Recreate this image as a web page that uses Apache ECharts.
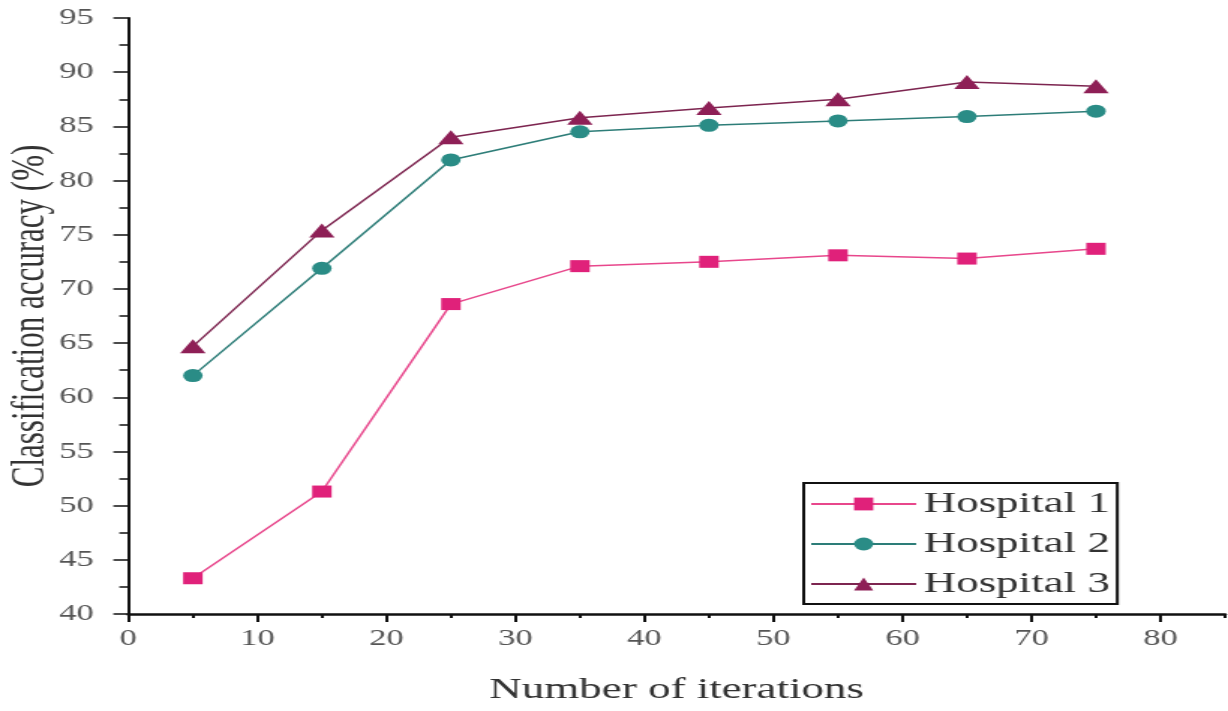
<!DOCTYPE html>
<html>
<head>
<meta charset="utf-8">
<script src="https://cdn.jsdelivr.net/npm/echarts@6/dist/echarts.min.js"></script>
<style>
  html, body { margin: 0; padding: 0; background: #fff; overflow: hidden; }
  #wrap { width: 1228px; height: 711px; overflow: hidden; }
  #chart { width: 819px; height: 711px; transform: scaleX(1.49939); transform-origin: 0 0; }
</style>
</head>
<body>
<div id="wrap"><div id="chart"></div></div>
<script>
const iterations = [5, 15, 25, 35, 45, 55, 65, 75];
const hospital1 = [43.3, 51.3, 68.6, 72.1, 72.5, 73.1, 72.8, 73.7];
const hospital2 = [62.0, 71.9, 81.9, 84.5, 85.1, 85.5, 85.9, 86.4];
const hospital3 = [64.7, 75.4, 84.0, 85.8, 86.7, 87.5, 89.1, 88.7];
const xMajorTicks = [0, 10, 20, 30, 40, 50, 60, 70, 80];
const xMinorTicks = [5, 15, 25, 35, 45, 55, 65, 75, 85];
const seriesNames = ['Hospital 1', 'Hospital 2', 'Hospital 3'];

const pairs = ys => iterations.map((x, i) => [x, ys[i]]);
const font = 'Liberation Serif';
const chart = echarts.init(document.getElementById('chart'), null, { renderer: 'canvas' });

chart.setOption({
  animation: false,
  backgroundColor: '#fff',
  grid: { left: 85.6, right: 2, top: 18, bottom: 97, containLabel: false, outerBoundsMode: 'none' },
  legend: {
    data: seriesNames,
    orient: 'vertical',
    left: 536,
    top: 483,
    itemWidth: 70,
    itemHeight: 16,
    itemGap: 10,
    padding: [6, 5, 5, 4],
    borderColor: '#111',
    borderWidth: 2,
    textStyle: { fontFamily: font, fontSize: 30, color: '#333', lineHeight: 30 }
  },
  xAxis: [{
    type: 'value', min: 0, max: 85, interval: 10, position: 'bottom',
    name: 'Number of iterations', nameLocation: 'middle', nameGap: 61,
    nameTextStyle: { fontFamily: font, fontSize: 30, color: '#333' },
    axisLine: { show: true, lineStyle: { color: '#111', width: 2.5 } },
    axisTick: { show: true, inside: false, length: 8, customValues: xMajorTicks, lineStyle: { color: '#111', width: 2 } },
    axisLabel: { customValues: xMajorTicks, margin: 13, fontFamily: font, fontSize: 23, color: '#555' },
    splitLine: { show: false }
  }, {
    type: 'value', min: 0, max: 85, interval: 10, position: 'bottom', offset: 0,
    axisLine: { show: false },
    axisTick: { show: true, inside: false, length: 4, customValues: xMinorTicks, lineStyle: { color: '#111', width: 2 } },
    axisLabel: { show: false },
    splitLine: { show: false }
  }],
  yAxis: {
    type: 'value', min: 40, max: 95, interval: 5,
    name: 'Classification accuracy (%)', nameLocation: 'middle', nameGap: 49, nameMoveOverlap: false,
    nameTextStyle: { fontFamily: font, fontSize: 31, color: '#333' },
    axisLine: { show: true, lineStyle: { color: '#111', width: 2 } },
    axisTick: { show: true, inside: false, length: 10, lineStyle: { color: '#111', width: 1.5 } },
    minorTick: { show: true, splitNumber: 2, length: 6, lineStyle: { color: '#111', width: 1.5 } },
    axisLabel: { margin: 23, fontFamily: font, fontSize: 23, color: '#555' },
    splitLine: { show: false }
  },
  series: [
    {
      name: seriesNames[0], type: 'line', data: pairs(hospital1),
      symbol: 'rect', symbolSize: [13, 12],
      lineStyle: { color: '#e8478c', width: 1.5 },
      itemStyle: { color: '#e0217a' }
    },
    {
      name: seriesNames[1], type: 'line', data: pairs(hospital2),
      symbol: 'circle', symbolSize: 13,
      lineStyle: { color: '#2d7d78', width: 1.5 },
      itemStyle: { color: '#2a8c86' }
    },
    {
      name: seriesNames[2], type: 'line', data: pairs(hospital3),
      symbol: 'triangle', symbolSize: [17, 14],
      lineStyle: { color: '#7d2550', width: 1.5 },
      itemStyle: { color: '#8e1f56' }
    }
  ]
});
</script>
</body>
</html>
